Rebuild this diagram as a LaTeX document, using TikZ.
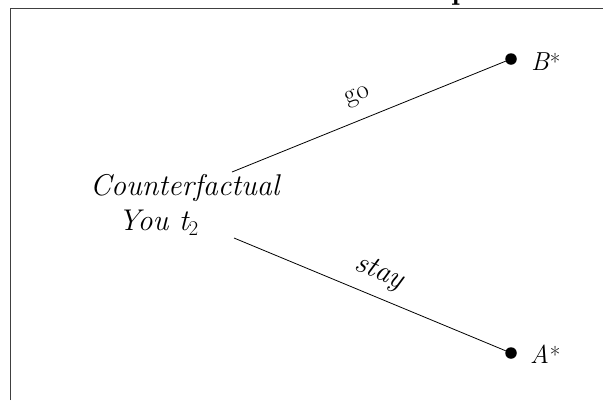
\documentclass[tikz,border=0pt]{standalone}
\usepackage{fontspec}
\newcommand{\bigast}{\kern1pt{\upshape\fontsize{23}{23}\selectfont *}}
\begin{document}
\begin{tikzpicture}[x=1pt,y=-1pt,
  every node/.style={inner sep=0pt, outer sep=0pt},
  dotnode/.style={circle, fill=black, minimum size=11.5pt},
  maintext/.style={font=\fontsize{30}{36}\selectfont\itshape, anchor=base west},
  endlabel/.style={font=\fontsize{26}{30}\selectfont\itshape, anchor=base west},
  golabel/.style={font=\fontsize{27}{32}\selectfont},
  staylabel/.style={font=\fontsize{30}{36}\selectfont\itshape},
  branch/.style={line width=0.8pt},
  framestyle/.style={draw=black!75, line width=1.1pt}]
\useasboundingbox (0,0) rectangle (603,400);
% cropped frame and title
\draw[framestyle] (10.5,400) -- (10.5,8.5) -- (603,8.5);
\node[anchor=base west, font=\fontsize{30}{36}\selectfont\bfseries] (title) at (451,-1) {p};
% root text
\node[maintext] (cf1) at (90,195) {Counterfactual};
\node[maintext] (cf2) at (118,230) {You t\textsubscript{\upshape 2}};
% end points
\node[dotnode] (B) at (511,59) {};
\node[dotnode] (A) at (511,353) {};
\node[endlabel] (Blab) at (531,70) {B\bigast};
\node[endlabel] (Alab) at (530,363) {A\bigast};
% connectors
\coordinate (up) at (232,172);
\coordinate (dn) at (234,238);
\draw[branch] (up) -- (B);
\draw[branch] (dn) -- (A);
\node[golabel, rotate=22] (go) at (358,97) {go};
\node[staylabel, rotate=-22.4] (stay) at (379,273) {stay};
\end{tikzpicture}
\end{document}
